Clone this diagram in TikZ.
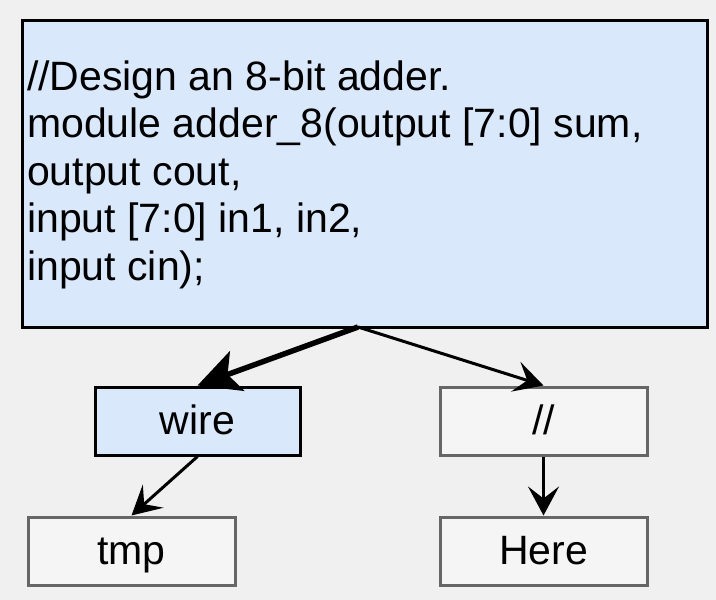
\documentclass[tikz,border=0pt]{standalone}
\usepackage{fontspec}
\setmainfont{Liberation Sans}
\usepackage{xcolor}
\definecolor{bgpage}{HTML}{F0F0F0}
\definecolor{codeblue}{HTML}{DAE8FC}
\definecolor{leafgrey}{HTML}{F5F5F5}
\definecolor{leafline}{HTML}{666666}
\usetikzlibrary{arrows.meta, positioning}
\tikzset{
  codebox/.style = {
    rectangle,
    draw=black,
    fill=codeblue,
    line width=3pt,
    minimum width=685pt,
    minimum height=307pt,
    inner sep=0pt
  },
  tokenbox/.style = {
    rectangle,
    draw=black,
    fill=codeblue,
    line width=3pt,
    minimum width=205pt,
    minimum height=68pt,
    inner sep=0pt,
    text height=32.5pt,
    text depth=6.5pt,
    font=\fontsize{41}{47.5}\selectfont
  },
  leafbox/.style = {
    rectangle,
    draw=leafline,
    fill=leafgrey,
    line width=3pt,
    minimum width=207pt,
    minimum height=68pt,
    inner sep=0pt,
    text height=32.5pt,
    text depth=6.5pt,
    font=\fontsize{41}{47.5}\selectfont
  },
  thinarrow/.style = {
    -{Stealth[length=29pt, width=31pt, inset=12pt]},
    line width=3pt
  },
  heavyarrow/.style = {
    -{Stealth[length=42pt, width=42pt, inset=10pt]},
    line width=5.5pt
  }
}
\begin{document}
\begin{tikzpicture}[x=1pt, y=-1pt]
  % page
  \fill[bgpage] (0,0) rectangle (716,600);
  \useasboundingbox (0,0) rectangle (716,600);

  % source block
  \node[codebox] (src) at (364.5,173.5) {};
  \node[anchor=base west, align=left, inner sep=0pt,
        font=\fontsize{41}{47.5}\selectfont] (srctext) at (27,280)
    {//Design an 8-bit adder.\\
     module adder\_8(output [7:0] sum,\\
     output cout,\\
     input [7:0] in1, in2,\\
     input cin);};
  \coordinate (fork) at (358,327);

  % tokens
  \node[tokenbox] (wire) at (197.5,421) {wire};
  \node[leafbox] (cmt) at (543.5,421) {//};
  \node[leafbox] (tmp) at (131.5,551) {tmp};
  \node[leafbox] (here) at (543.5,551) {Here};

  % edges
  \draw[heavyarrow] (fork) -- (wire.north);
  \draw[thinarrow] (fork) -- (cmt.north);
  \draw[thinarrow] (wire.south) -- (tmp.north);
  \draw[thinarrow] (cmt.south) -- (here.north);
\end{tikzpicture}
\end{document}
